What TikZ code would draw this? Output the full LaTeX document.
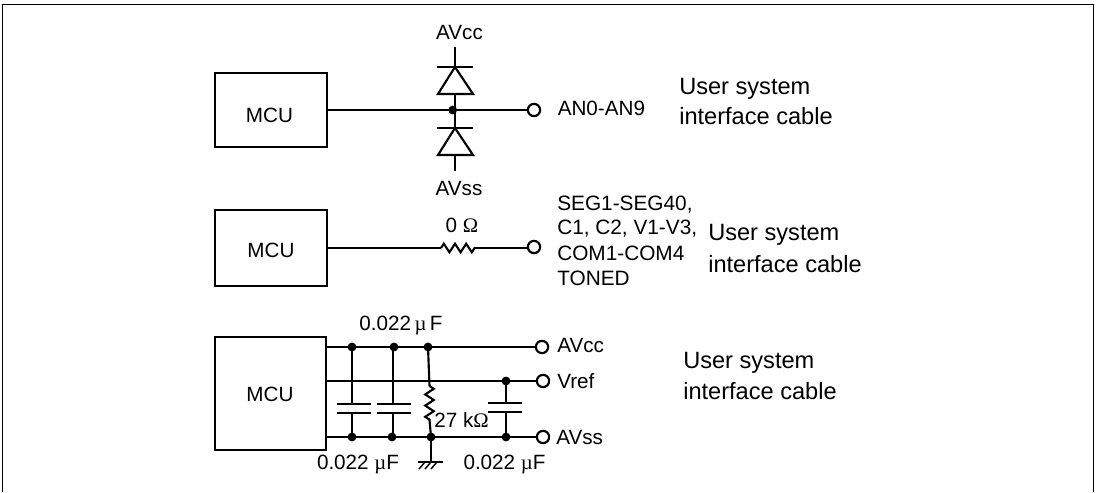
\documentclass[tikz,border=0pt]{standalone}
\usepackage{fontspec}
\setmainfont{Liberation Sans}
\newfontfamily\symfont{Liberation Serif}
\usetikzlibrary{decorations.pathmorphing}
\newcommand{\uF}{{\symfont µ}F}
\newcommand{\ohm}{{\symfont Ω}}
\tikzset{
  wire/.style={line width=1.6pt,line cap=butt},
  mcu/.style={draw,line width=1.8pt,inner sep=0pt},
  term/.style={circle,draw,line width=1.6pt,fill=white,minimum size=9.2pt,inner sep=0pt},
  dot/.style={circle,fill=black,minimum size=6.6pt,inner sep=0pt},
  lab/.style={font=\fontsize{15.5}{17}\selectfont,inner sep=0pt},
  lableft/.style={lab,anchor=west},
  usr/.style={inner sep=0pt,anchor=base west,font=\fontsize{17.7}{20}\selectfont},
  seglab/.style={inner sep=0pt,anchor=west,font=\fontsize{15.6}{17}\selectfont},
  plate/.style={line width=1.6pt},
  zig/.style={line width=1.6pt,decorate,decoration={zigzag,amplitude=3.2pt,segment length=8.4pt}},
}
\begin{document}
\begin{tikzpicture}[x=0.75pt,y=-0.75pt]
\useasboundingbox (0,0) rectangle (1098,492);
% frame
\coordinate (fbl) at (2.5,492);
\coordinate (ftl) at (2.5,4.5);
\coordinate (ftr) at (1093.5,4.5);
\coordinate (fbr) at (1093.5,492);
\draw[line width=0.9pt] (fbl) -- (ftl) -- (ftr) -- (fbr);

% ---------- top circuit
\node[mcu,minimum width=84pt,minimum height=55.5pt] (m1) at (271,110) {};
\node[lab] (m1t) at (269.5,115) {MCU};
\node[term] (t1) at (534,110) {};
\node[lableft] (an) at (557.5,108) {AN0-AN9};
\draw[wire] (m1.east) -- (t1);
\node[lab] (avcc1) at (459.5,32) {AVcc};
\node[lab] (avss1) at (459,188) {AVss};
\coordinate (dtop) at (455,47);
\coordinate (dapex1) at (455,67);
\coordinate (dbase1) at (455,94);
\coordinate (dbar2) at (455,128);
\coordinate (dbase2) at (455,155);
\coordinate (dbot) at (455,171);
\coordinate (dmid) at (455,110);
\draw[wire] (dtop) -- (dapex1);
\draw[wire] (dbase1) -- (dmid) -- (dbar2);
\draw[wire] (dbase2) -- (dbot);
\draw[plate] (437,67) -- (473,67);
\draw[plate,line join=miter] (dapex1) -- (438,94) -- (473,94) -- cycle;
\draw[plate] (437,128) -- (473,128);
\draw[plate,line join=miter] (dbar2) -- (438,155) -- (473,155) -- cycle;
\node[dot] (d0) at (452.7,110) {};

% ---------- middle circuit
\node[mcu,minimum width=84pt,minimum height=57pt] (m2) at (271,248) {};
\node[lab] (m2t) at (271,250) {MCU};
\node[term] (t2) at (534,247) {};
\coordinate (r2a) at (441,248);
\coordinate (r2b) at (475,248);
\draw[wire] (m2.east |- r2a) -- (r2a);
\draw[zig] (r2a) -- (r2b);
\draw[wire] (r2b) -- (t2.west |- r2b);
\node[lab] (ohm0) at (462,225) {0 \ohm};
\node[seglab] (s1) at (557,205) {SEG1-SEG40,};
\node[seglab] (s2) at (557,229) {C1, C2, V1-V3,};
\node[seglab] (s3) at (557,253) {COM1-COM4};
\node[seglab] (s4) at (557,278) {TONED};

% ---------- bottom circuit
\node[mcu,minimum width=83.5pt,minimum height=84.5pt] (m3) at (270.5,393.5) {};
\node[lab] (m3t) at (270,394) {MCU};
\node[term] (ta) at (542,347) {};
\node[term] (tb) at (543,381) {};
\node[term] (tc) at (543,437) {};
\node[lableft] (la) at (557,345) {AVcc};
\node[lableft] (lb) at (557,381) {Vref};
\node[lableft] (lc) at (556,437) {AVss};
\draw[wire] (m3.east |- ta) -- (ta);
\draw[wire] (m3.east |- tb) -- (tb);
\draw[wire] (m3.east |- tc) -- (tc);
\node[dot] (a1) at (352,347) {};
\node[dot] (a2) at (394,347) {};
\node[dot] (a3) at (428,347) {};
\node[dot] (b1) at (506,381) {};
\node[dot] (c1) at (352,437) {};
\node[dot] (c2) at (392,437) {};
\node[dot] (c3) at (431,437) {};
\node[dot] (c4) at (506,437) {};
% capacitor 1
\draw[wire] (a1.center) -- (352,404);
\draw[plate] (337,404) -- (371,404);
\draw[plate] (337,413) -- (371,413);
\draw[wire] (352,413) -- (c1.center);
% capacitor 2
\draw[wire] (393,347) -- (393,404);
\draw[plate] (377,404) -- (411,404);
\draw[plate] (377,413) -- (411,413);
\draw[wire] (393,413) -- (393,437);
% capacitor 3
\draw[wire] (b1.center) -- (506,403);
\draw[plate] (488,403) -- (522,403);
\draw[plate] (488,412) -- (522,412);
\draw[wire] (506,412) -- (c4.center);
% resistor
\coordinate (r3a) at (429.5,386);
\coordinate (r3b) at (429.5,420);
\draw[wire] (a3.center) -- (r3a);
\draw[zig] (r3a) -- (r3b);
\draw[wire] (r3b) -- (c3.center);
% ground
\coordinate (g) at (431,462);
\draw[wire] (c3.center) -- (g);
\draw[plate] (418,462) -- (443,462);
\draw[line width=1.1pt] (425,462) -- (419,469);
\draw[line width=1.1pt] (431,462) -- (425,469);
\draw[line width=1.1pt] (437,462) -- (431,469);
% labels
\node[lab] (c0) at (401,325) {0.022\,{\symfont µ}\,F};
\node[lab] (c5) at (358,464) {0.022 \uF};
\node[lab] (c6) at (504.5,464) {0.022 \uF};
\node[lab] (k) at (461.5,420) {27 k\ohm};
% right-hand labels
\node[usr] (u1) at (679,94) {User system};
\node[usr] (u1b) at (679,124) {interface cable};
\node[usr] (u2) at (708,240) {User system};
\node[usr] (u2b) at (708,272) {interface cable};
\node[usr] (u3) at (683,368) {User system};
\node[usr] (u3b) at (683,399) {interface cable};
\end{tikzpicture}
\end{document}
